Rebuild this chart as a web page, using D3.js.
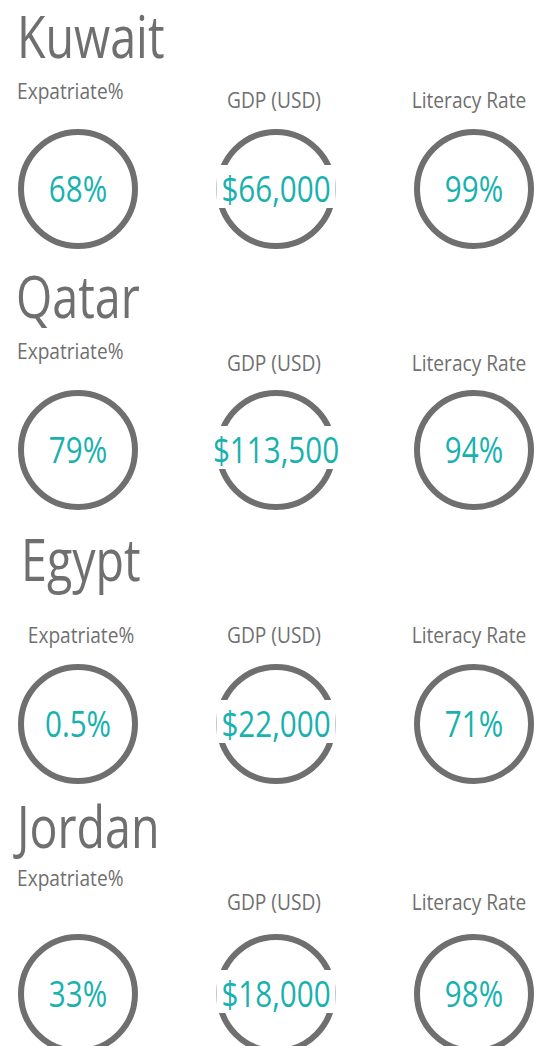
<!DOCTYPE html>
<html>
<head>
<meta charset="utf-8">
<script src="https://cdn.jsdelivr.net/npm/d3@7"></script>
<style>
  body { margin: 0; background: #fff; }
  svg { display: block; }
  text { font-family: "Open Sans", "DejaVu Sans", sans-serif; }
</style>
</head>
<body>
<svg width="535" height="1046"></svg>
<script>
// country stats
const countries = ['Kuwait', 'Qatar', 'Egypt', 'Jordan'];
const metrics = ['Expatriate%', 'GDP (USD)', 'Literacy Rate'];
const expatriate = [68, 79, 0.5, 33];
const gdp = [66000, 113500, 22000, 18000];
const literacy = [99, 94, 71, 98];

const grey = '#6f6f6f';
const teal = '#18b1b0';

// page layout, one entry per country block (y = baselines / circle centre)
const rows = [
  { titleX: 17, titleY: 58,  expY: 99,  expLeft: true,  labelY: 108, cy: 189 },
  { titleX: 16, titleY: 318, expY: 359, expLeft: true,  labelY: 371, cy: 450 },
  { titleX: 21, titleY: 581, expY: 643, expLeft: false, labelY: 643, cy: 724 },
  { titleX: 17, titleY: 848, expY: 886, expLeft: true,  labelY: 910, cy: 994 }
];

const titleSize = 59, labelSize = 22, valueSize = 37;
const squeeze = { title: 0.79, label: 0.87, value: 0.8 };
const r = 57;

const svg = d3.select('svg');

const x = d3.scalePoint()
  .domain(metrics)
  .range([78, 474]);

const labelShift = { 'Expatriate%': 3, 'GDP (USD)': -2, 'Literacy Rate': -5 };

const fmtMoney = d3.format('$,');
const values = countries.map((c, i) => [
  expatriate[i] + '%',
  fmtMoney(gdp[i]),
  literacy[i] + '%'
]);

function squeezed(g, px, py, sx, txt, size, color, anchor, weight) {
  const t = g.append('g')
    .attr('transform', `translate(${px},${py}) scale(${sx},1)`)
    .append('text')
    .attr('text-anchor', anchor)
    .attr('font-size', size)
    .attr('font-weight', weight || 400)
    .attr('fill', color)
    .text(txt);
  return t;
}

countries.forEach((name, i) => {
  const L = rows[i];
  const block = svg.append('g').attr('class', 'country');

  squeezed(block, L.titleX, L.titleY, squeeze.title, name, titleSize, grey, 'start', 400);

  metrics.forEach((m, j) => {
    const cx = x(m);
    // header
    if (j === 0 && L.expLeft) {
      squeezed(block, 17, L.expY, squeeze.label, m, labelSize, grey, 'start');
    } else {
      const ly = j === 0 ? L.expY : L.labelY;
      squeezed(block, cx + labelShift[m], ly, squeeze.label, m, labelSize, grey, 'middle');
    }

    block.append('circle')
      .attr('cx', cx)
      .attr('cy', L.cy)
      .attr('r', r)
      .attr('fill', 'none')
      .attr('stroke', grey)
      .attr('stroke-width', 6);

    // white backing so wide numbers cut the ring
    const bg = block.append('rect').attr('fill', '#fff');
    const vy = L.cy + valueSize * 0.714 / 2;
    const t = squeezed(block, cx, vy, squeeze.value, values[i][j], valueSize, teal, 'middle');
    const w = t.node().getComputedTextLength() * squeeze.value + 10;
    bg.attr('x', cx - w / 2)
      .attr('y', L.cy - 24)
      .attr('width', w)
      .attr('height', 43);
  });
});
</script>
</body>
</html>
